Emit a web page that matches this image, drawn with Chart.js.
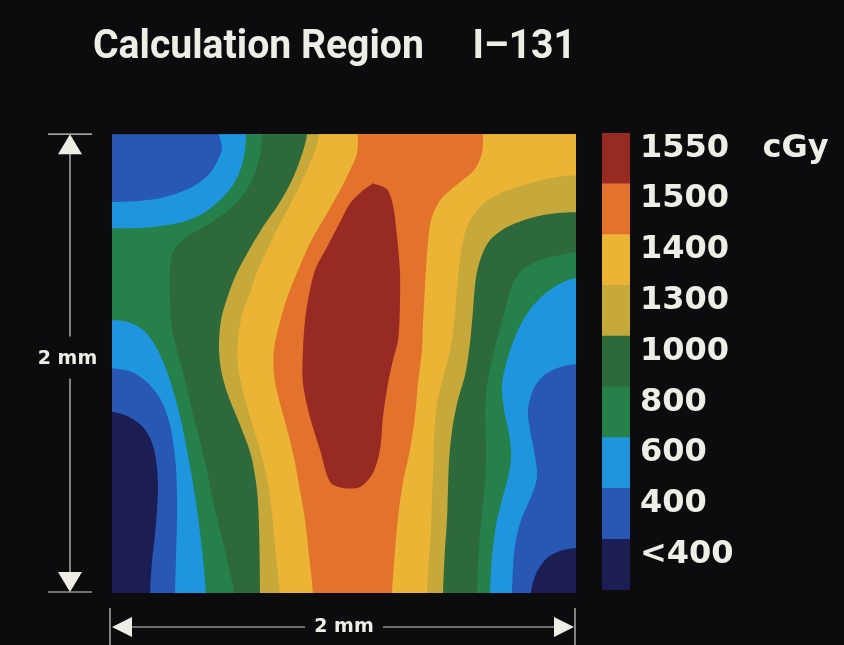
<!DOCTYPE html>
<html>
<head>
<meta charset="utf-8">
<script src="https://cdn.jsdelivr.net/npm/chart.js"></script>
<style>
  html, body { margin: 0; padding: 0; background: #0c0c0e; width: 844px; height: 645px; overflow: hidden; }
  canvas { position: absolute; left: 0; top: 0; }
</style>
</head>
<body>
<canvas id="map" width="844" height="645"></canvas>
<canvas id="key" width="844" height="645"></canvas>
<script>
// ---------------- data (mm; x from left edge, y from bottom edge of the 2 mm x 2 mm region) -------------
const titleText = 'Calculation Region     I\u2013131';
const scaleLabel = '2 mm';
const regionSize = 2;                       // mm on each side
const doseLabels = ['<400', '400', '600', '800', '1000', '1300', '1400', '1500', '1550   cGy'];

// isodose lines, each traced from one edge of the region to another (top -> bottom)
const iso400Left = [[0,0.789],[0.069,0.771],[0.129,0.728],[0.168,0.667],[0.190,0.580],[0.198,0.471],[0.194,0.362],[0.185,0.253],[0.172,0.131],[0.164,0]];
const iso400Right = [[2,0.196],[1.931,0.183],[1.875,0.153],[1.836,0.100],[1.815,0.048],[1.806,0]];
const iso600LeftTop = [[0.461,2],[0.474,1.943],[0.457,1.887],[0.422,1.830],[0.366,1.782],[0.293,1.747],[0.207,1.721],[0.099,1.708],[0,1.704]];
const iso600LeftBottom = [[0,0.980],[0.086,0.963],[0.159,0.911],[0.216,0.832],[0.250,0.732],[0.272,0.593],[0.280,0.449],[0.280,0.305],[0.276,0.157],[0.272,0]];
const iso600Right = [[2,0.998],[1.918,0.980],[1.858,0.946],[1.815,0.885],[1.793,0.797],[1.802,0.710],[1.823,0.601],[1.832,0.505],[1.806,0.418],[1.763,0.318],[1.737,0.209],[1.728,0.100],[1.724,0]];
const iso800LeftTop = [[0.578,2],[0.573,1.930],[0.560,1.865],[0.526,1.786],[0.474,1.721],[0.401,1.660],[0.315,1.621],[0.207,1.599],[0.099,1.590],[0,1.590]];
const iso800LeftBottom = [[0,1.190],[0.069,1.181],[0.134,1.146],[0.185,1.081],[0.228,0.989],[0.267,0.871],[0.297,0.754],[0.323,0.623],[0.349,0.479],[0.371,0.331],[0.388,0.187],[0.405,0]];
const iso800Right = [[2,1.373],[1.944,1.355],[1.875,1.312],[1.802,1.237],[1.746,1.137],[1.703,1.015],[1.681,0.906],[1.690,0.797],[1.711,0.697],[1.720,0.593],[1.707,0.505],[1.681,0.405],[1.655,0.296],[1.638,0.157],[1.629,0]];
const iso1000Left = [[0.647,2],[0.638,1.908],[0.612,1.821],[0.565,1.734],[0.491,1.660],[0.401,1.599],[0.319,1.551],[0.267,1.495],[0.250,1.407],[0.250,1.277],[0.259,1.146],[0.280,1.059],[0.315,0.928],[0.345,0.797],[0.379,0.667],[0.409,0.536],[0.435,0.405],[0.466,0.275],[0.496,0.144],[0.526,0]];
const iso1000Right = [[2,1.486],[1.909,1.468],[1.823,1.442],[1.759,1.399],[1.720,1.329],[1.694,1.233],[1.664,1.124],[1.638,1.015],[1.616,0.906],[1.608,0.784],[1.612,0.636],[1.608,0.492],[1.595,0.349],[1.582,0.200],[1.573,0]];
const iso1300Left = [[0.841,2],[0.819,1.913],[0.776,1.800],[0.716,1.691],[0.647,1.590],[0.586,1.486],[0.534,1.386],[0.496,1.285],[0.470,1.190],[0.461,1.081],[0.470,0.972],[0.500,0.863],[0.552,0.732],[0.599,0.601],[0.625,0.449],[0.634,0.275],[0.638,0]];
const iso1300Right = [[2,1.660],[1.918,1.656],[1.802,1.634],[1.703,1.595],[1.629,1.538],[1.591,1.464],[1.569,1.377],[1.556,1.233],[1.543,1.089],[1.522,0.950],[1.491,0.841],[1.466,0.710],[1.453,0.580],[1.448,0.449],[1.444,0.318],[1.435,0.187],[1.427,0]];
const iso1400Left = [[0.892,2],[0.875,1.926],[0.836,1.834],[0.784,1.725],[0.728,1.617],[0.672,1.503],[0.625,1.399],[0.591,1.298],[0.560,1.211],[0.543,1.102],[0.543,0.993],[0.565,0.876],[0.603,0.741],[0.647,0.593],[0.677,0.449],[0.694,0.305],[0.707,0.157],[0.724,0]];
const iso1400Right = [[2,1.821],[1.918,1.813],[1.802,1.786],[1.685,1.747],[1.603,1.699],[1.543,1.625],[1.513,1.538],[1.496,1.420],[1.483,1.277],[1.470,1.133],[1.448,1.015],[1.418,0.906],[1.397,0.797],[1.388,0.667],[1.384,0.536],[1.379,0.405],[1.375,0.275],[1.366,0.144],[1.358,0]];
const iso1500Left = [[1.060,2],[1.056,1.917],[1.026,1.843],[0.983,1.756],[0.922,1.647],[0.853,1.525],[0.802,1.407],[0.754,1.285],[0.720,1.168],[0.698,1.059],[0.698,0.950],[0.720,0.841],[0.750,0.732],[0.784,0.593],[0.810,0.449],[0.832,0.318],[0.849,0.166],[0.866,0]];
const iso1500Right = [[1.599,2],[1.595,1.917],[1.560,1.843],[1.478,1.773],[1.414,1.712],[1.375,1.625],[1.358,1.481],[1.349,1.333],[1.341,1.190],[1.336,1.059],[1.319,0.915],[1.306,0.767],[1.284,0.623],[1.254,0.479],[1.233,0.331],[1.220,0.187],[1.207,0]];
// closed 1550 cGy isodose
const iso1550 = [[1.125,1.786],[1.185,1.760],[1.211,1.691],[1.228,1.560],[1.241,1.407],[1.241,1.246],[1.233,1.102],[1.211,1.015],[1.190,0.915],[1.168,0.767],[1.155,0.623],[1.125,0.523],[1.069,0.462],[0.996,0.458],[0.940,0.484],[0.897,0.623],[0.853,0.767],[0.823,0.915],[0.823,1.059],[0.832,1.190],[0.845,1.277],[0.875,1.407],[0.927,1.508],[0.983,1.617],[1.026,1.699],[1.082,1.756]];

// ---------------- styles ----------------
const bandColors = ['#1c1d52', '#2858b4', '#1f95e0', '#258049', '#2d693b', '#c6a83b', '#ecb434', '#e3732c', '#982a24'];
const textColor = '#efeee6';
const lineColor = '#d4d3cc';

// ---------------- build dose-band regions (area at or above each level) ----------------
const OUT = 0.1;
function edgeOut(p) {
  const [x, y] = p;
  if (y >= regionSize) return [x, regionSize + OUT];
  if (y <= 0) return [x, -OUT];
  if (x <= 0) return [-OUT, y];
  return [regionSize + OUT, y];
}
function sidePath(parts, outerX) {
  const path = [[outerX, regionSize + OUT]];
  for (const part of parts) {
    path.push(edgeOut(part[0]), ...part, edgeOut(part[part.length - 1]));
  }
  path.push([outerX, -OUT]);
  return path;
}
function region(leftParts, rightParts) {
  return sidePath(leftParts, -OUT).concat(sidePath(rightParts, regionSize + OUT).reverse());
}
const regionShapes = [
  region([], []),
  region([iso400Left], [iso400Right]),
  region([iso600LeftTop, iso600LeftBottom], [iso600Right]),
  region([iso800LeftTop, iso800LeftBottom], [iso800Right]),
  region([iso1000Left], [iso1000Right]),
  region([iso1300Left], [iso1300Right]),
  region([iso1400Left], [iso1400Right]),
  region([iso1500Left], [iso1500Right]),
  iso1550
];

const scaleBars = {
  id: 'scaleBars',
  afterDraw(chart) {
    const {ctx, scales} = chart;
    const L = scales.x.getPixelForValue(0), R = scales.x.getPixelForValue(regionSize);
    const T = scales.y.getPixelForValue(regionSize), B = scales.y.getPixelForValue(0);
    const line = (x1, y1, x2, y2) => { ctx.beginPath(); ctx.moveTo(x1, y1); ctx.lineTo(x2, y2); ctx.stroke(); };
    const tri = (a, b, c) => { ctx.beginPath(); ctx.moveTo(a[0], a[1]); ctx.lineTo(b[0], b[1]); ctx.lineTo(c[0], c[1]); ctx.closePath(); ctx.fill(); };
    ctx.save();
    ctx.strokeStyle = lineColor; ctx.fillStyle = textColor; ctx.lineWidth = 1.2;
    // vertical scale bar
    const vx = L - 42, vMid = (T + B) / 2 - 5;
    line(vx - 22, T, vx + 22, T);
    line(vx - 22, B - 1, vx + 22, B - 1);
    line(vx, T + 19, vx, vMid - 22);
    line(vx, vMid + 20, vx, B - 20);
    tri([vx, T], [vx - 12, T + 20], [vx + 12, T + 20]);
    tri([vx, B - 1], [vx - 12, B - 21], [vx + 12, B - 21]);
    ctx.font = 'bold 19px "DejaVu Sans"';
    ctx.textAlign = 'center'; ctx.textBaseline = 'middle';
    ctx.fillText(scaleLabel, vx - 2.5, vMid);
    // horizontal scale bar
    const hy = B + 34, hMid = (L + R) / 2;
    line(L - 2, B + 15, L - 2, B + 52);
    line(R - 1, B + 15, R - 1, B + 52);
    line(L + 20, hy, hMid - 39, hy);
    line(hMid + 39, hy, R - 22, hy);
    tri([L, hy], [L + 20, hy - 10], [L + 20, hy + 10]);
    tri([R - 2, hy], [R - 22, hy - 10], [R - 22, hy + 10]);
    ctx.restore();
  }
};

new Chart(document.getElementById('map'), {
  type: 'scatter',
  data: {
    datasets: regionShapes.map((pts, i) => ({
      label: doseLabels[i],
      data: pts.map(([x, y]) => ({x, y})),
      showLine: true,
      fill: 'shape',
      backgroundColor: bandColors[i],
      borderColor: 'rgba(0,0,0,0)',
      borderWidth: 0,
      pointRadius: 0,
      pointHoverRadius: 0,
      tension: 0.3,
      capBezierPoints: false,
      order: -i
    }))
  },
  options: {
    responsive: false, animation: false, devicePixelRatio: 1, events: [],
    layout: { padding: { left: 93, right: 268, top: 0, bottom: 0 } },
    plugins: {
      legend: { display: false },
      tooltip: { enabled: false },
      title: {
        display: true, text: titleText, align: 'start', color: textColor,
        font: { family: 'Roboto', weight: 'bold', size: 41, lineHeight: 1.2 },
        padding: { top: 23, bottom: 62 }
      }
    },
    scales: {
      x: {
        type: 'linear', min: 0, max: regionSize,
        grid: { display: false }, border: { display: false }, ticks: { display: false },
        title: { display: true, text: scaleLabel, color: textColor,
          font: { family: 'DejaVu Sans', weight: 'bold', size: 19, lineHeight: 1.2 }, padding: { top: 0, bottom: 7 } },
        afterFit: s => { s.height = 52; }
      },
      y: {
        type: 'linear', min: 0, max: regionSize,
        grid: { display: false }, border: { display: false }, ticks: { display: false },
        afterFit: s => { s.width = 19; }
      }
    }
  },
  plugins: [scaleBars]
});

// colour key
new Chart(document.getElementById('key'), {
  type: 'bar',
  data: {
    labels: [''],
    datasets: doseLabels.map((lab, i) => ({
      label: lab, data: [1], backgroundColor: bandColors[i], borderWidth: 0,
      barPercentage: 1, categoryPercentage: 1
    }))
  },
  options: {
    responsive: false, animation: false, devicePixelRatio: 1, events: [],
    layout: { padding: { left: 602, right: 0, top: 133, bottom: 55 } },
    plugins: { legend: { display: false }, tooltip: { enabled: false } },
    scales: {
      x: { display: false, stacked: true },
      y: {
        stacked: true, position: 'right', min: 0, max: doseLabels.length,
        grid: { display: false, drawTicks: false }, border: { display: false },
        afterBuildTicks: s => { s.ticks = doseLabels.map((_, i) => ({ value: i + 0.5 })); },
        afterFit: s => { s.width = 214; },
        ticks: {
          padding: 10, labelOffset: -10, color: textColor,
          font: { family: 'DejaVu Sans', weight: 'bold', size: 32 },
          callback: (v, i) => doseLabels[i]
        }
      }
    }
  }
});
</script>
</body>
</html>
